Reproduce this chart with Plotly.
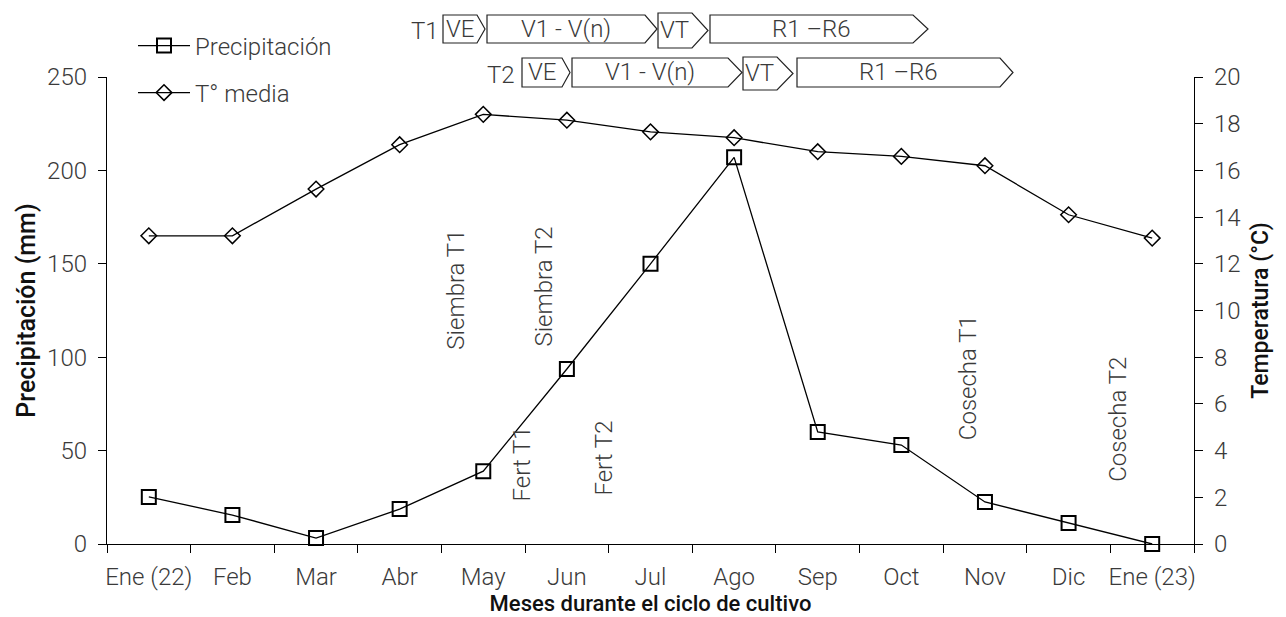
import plotly.graph_objects as go

# ---------------- data ----------------
months = ["Ene (22)", "Feb", "Mar", "Abr", "May", "Jun", "Jul", "Ago",
          "Sep", "Oct", "Nov", "Dic", "Ene (23)"]
precip_mm = [25.2, 15.5, 3.2, 18.7, 39, 93.7, 150, 207, 60, 53, 22.5, 11.2, 0]
temp_c = [13.2, 13.2, 15.2, 17.1, 18.4, 18.15, 17.65, 17.4, 16.8, 16.6, 16.2, 14.1, 13.1]

# event annotations (position in category units, label)
event_labels = ["Siembra T1", "Siembra T2", "Fert T1", "Fert T2", "Cosecha T1", "Cosecha T2"]
event_x = [3.67, 4.73, 4.46, 5.45, 9.79, 11.59]
event_y = [136, 138, 43, 46, 89, 67]

# phenological stages
stage_labels = ["VE", "V1 - V(n)", "VT", "R1 –R6"]

# ---------------- layout geometry (pixels) ----------------
W, H = 1286, 617
L, R, T, B = 107, 92, 77, 73
PW, PH = W - L - R, H - T - B

def px(x):
    return (x - L) / PW

def py(y):
    return (H - B - y) / PH

FONT = "Roboto"
TXT = "#3a3a3a"

fig = go.Figure()
fig.add_trace(go.Scatter(
    x=months, y=precip_mm, name="Precipitación", mode="lines+markers",
    line=dict(color="black", width=1.3),
    marker=dict(symbol="square-open", size=14, color="black", line=dict(width=2)),
    cliponaxis=False, legend="legend"))
fig.add_trace(go.Scatter(
    x=months, y=temp_c, name="T° media", mode="lines+markers", yaxis="y2",
    line=dict(color="black", width=1.3),
    marker=dict(symbol="diamond-open", size=12, color="black", line=dict(width=1.5)),
    cliponaxis=False, legend="legend2"))

shapes = []
annotations = []

# stage rows: (row label, label pos, starts, rect ends, tips, y top, y bottom, VT top, VT bottom)
rows = [
    ("T1", (425, 31), [443, 487, 658, 710], [477, 645, 692, 913], [485, 657, 708, 928], 15, 43, 13, 48),
    ("T2", (501, 75), [522, 572, 743, 797], [562, 728, 777, 1000], [570, 742, 793, 1013], 58, 87, 57, 90),
]
for lab, (lx, ly), starts, ends, tips, yt, yb, vtt, vtb in rows:
    annotations.append(dict(x=px(lx), y=py(ly), xref="paper", yref="paper", text=lab,
                            xanchor="center", yanchor="middle", showarrow=False,
                            font=dict(family=FONT, size=24, color=TXT, weight=300)))
    for i, s in enumerate(stage_labels):
        t, b = (vtt, vtb) if s == "VT" else (yt, yb)
        x0, x1, x2 = px(starts[i]), px(ends[i]), px(tips[i])
        y0, y1, ym = py(t), py(b), py((t + b) / 2)
        path = f"M{x0},{y0} L{x1},{y0} L{x2},{ym} L{x1},{y1} L{x0},{y1} Z"
        shapes.append(dict(type="path", path=path, xref="paper", yref="paper",
                           line=dict(color="#222", width=1.2), fillcolor="white"))
        annotations.append(dict(x=(x0 + x1) / 2, y=ym, xref="paper", yref="paper", text=s,
                                showarrow=False, xanchor="center", yanchor="middle",
                                font=dict(family=FONT, size=24, color=TXT, weight=300)))

for lab, ex, ey in zip(event_labels, event_x, event_y):
    annotations.append(dict(x=ex, y=ey, xref="x", yref="y", text=lab, textangle=-90,
                            xanchor="center", yanchor="middle",
                            showarrow=False, font=dict(family=FONT, size=24, color=TXT, weight=300)))

tickfont = dict(family=FONT, size=24, color=TXT, weight=300)

fig.update_layout(
    width=W, height=H,
    margin=dict(l=L, r=R, t=T, b=B, autoexpand=False),
    paper_bgcolor="white", plot_bgcolor="white",
    shapes=shapes, annotations=annotations,
    xaxis=dict(type="category", categoryorder="array", categoryarray=months,
               range=[-0.5, 12.5], tickson="boundaries", ticks="outside", ticklen=8,
               tickcolor="black", tickwidth=1.3, showline=True, linecolor="black", linewidth=1.3,
               showgrid=False, zeroline=False, tickfont=tickfont, tickangle=0,
               ticklabelstandoff=11,
               title=dict(text="Meses durante el ciclo de cultivo",
                          font=dict(family=FONT, size=22, color="#111", weight=500), standoff=1)),
    yaxis=dict(range=[0, 250], dtick=50, ticks="outside", ticklen=8, tickcolor="black",
               tickwidth=1.3, showline=True, linecolor="black", linewidth=1.3,
               showgrid=False, zeroline=False, tickfont=tickfont, ticklabelstandoff=6,
               title=dict(text="Precipitación (mm)",
                          font=dict(family=FONT, size=25, color="#111", weight=500), standoff=4)),
    yaxis2=dict(range=[0, 20], dtick=2, overlaying="y", side="right", ticks="outside",
                ticklen=8, tickcolor="black", tickwidth=1.3, showline=True, linecolor="black",
                linewidth=1.3, showgrid=False, zeroline=False, tickfont=tickfont,
                ticklabelstandoff=6,
                title=dict(text="Temperatura (°C)",
                           font=dict(family=FONT, size=23, color="#111", weight=500), standoff=12)),
    legend=dict(x=px(133), y=py(46), xanchor="left", yanchor="middle", bgcolor="rgba(0,0,0,0)",
                font=dict(family=FONT, size=24, color=TXT, weight=300), itemwidth=52),
    legend2=dict(x=px(133), y=py(93), xanchor="left", yanchor="middle", bgcolor="rgba(0,0,0,0)",
                 font=dict(family=FONT, size=24, color=TXT, weight=300), itemwidth=52),
    showlegend=True,
)

fig.write_html("out.html", config={"displayModeBar": False},
               post_script="document.body.style.margin='0px';")
